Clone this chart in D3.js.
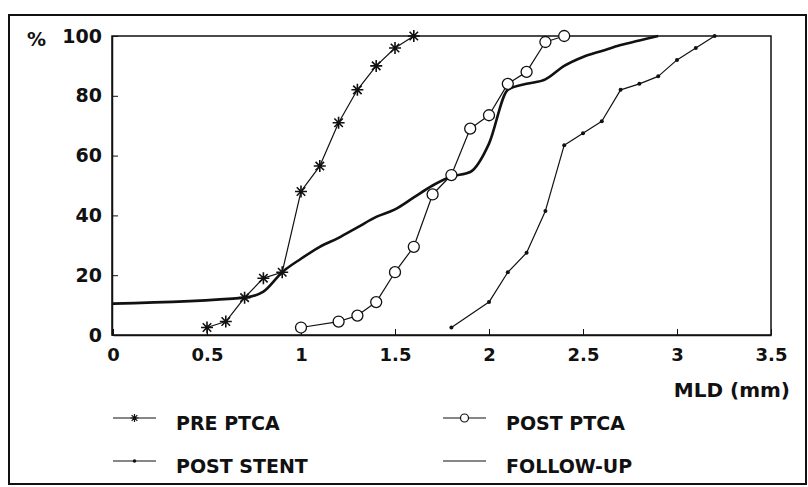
<!DOCTYPE html>
<html>
<head>
<meta charset="utf-8">
<script src="https://cdn.jsdelivr.net/npm/d3@7"></script>
<style>
    body { margin: 0; background: #fff; }
    text { font-family: "DejaVu Sans", sans-serif; font-weight: bold; fill: #111; }
</style>
</head>
<body>
<svg id="chart" width="808" height="487"></svg>
<script>
// MLD values (mm) and cumulative %
var prePtcaX = [0.5, 0.6, 0.7, 0.8, 0.9, 1.0, 1.1, 1.2, 1.3, 1.4, 1.5, 1.6];
var prePtcaY = [2.5, 4.5, 12.5, 19, 21, 48, 56.5, 71, 82, 90, 96, 100];

var postPtcaX = [1.0, 1.2, 1.3, 1.4, 1.5, 1.6, 1.7, 1.8, 1.9, 2.0, 2.1, 2.2, 2.3, 2.4];
var postPtcaY = [2.5, 4.5, 6.5, 11, 21, 29.5, 47, 53.5, 69, 73.5, 84, 88, 98, 100];

var postStentX = [1.8, 2.0, 2.1, 2.2, 2.3, 2.4, 2.5, 2.6, 2.7, 2.8, 2.9, 3.0, 3.1, 3.2];
var postStentY = [2.5, 11, 21, 27.5, 41.5, 63.5, 67.5, 71.5, 82, 84, 86.5, 92, 96, 100];

var followUpX = [0, 0.7, 0.8, 0.9, 1.0, 1.1, 1.2, 1.3, 1.4, 1.5, 1.6, 1.7, 1.8, 1.9, 2.0, 2.1, 2.2, 2.3, 2.4, 2.5, 2.6, 2.7, 2.8, 2.9];
var followUpY = [10.5, 12.5, 14.5, 21, 25.5, 29.5, 32.5, 36, 39.5, 42, 46, 50, 53, 54.5, 64, 82, 84, 85.5, 90, 93, 95, 97, 98.5, 100];

var xTicks = [0, 0.5, 1, 1.5, 2, 2.5, 3, 3.5];
var yTicks = [0, 20, 40, 60, 80, 100];

var svg = d3.select("#chart");

var x = d3.scaleLinear().domain([0, 3.5]).range([113, 771]);
var y = d3.scaleLinear().domain([0, 100]).range([335, 36]);

function zip(xs, ys) {
    return xs.map(function (d, i) { return [d, ys[i]]; });
}

//outer frame
svg.append("rect")
    .attr("x", 9).attr("y", 15).attr("width", 797).attr("height", 469)
    .attr("fill", "none").attr("stroke", "#111").attr("stroke-width", 2);

//plot box
svg.append("rect")
    .attr("x", x(0) - 1).attr("y", y(100)).attr("width", x(3.5) - x(0) + 1).attr("height", y(0) - y(100))
    .attr("fill", "none").attr("stroke", "#111").attr("stroke-width", 1.5);

//axes, ticks pointing inward
var xAxis = svg.append("g").attr("transform", "translate(0," + y(0) + ")")
    .call(d3.axisBottom(x).tickValues(xTicks).tickSizeInner(-6).tickSizeOuter(0).tickPadding(13)
        .tickFormat(function (d) { return d; }));
xAxis.select(".domain").attr("stroke", "#111").attr("stroke-width", 1.5);
xAxis.selectAll("line").attr("stroke", "#111");
xAxis.selectAll("text").attr("font-size", 18).attr("font-family", null).attr("fill", null);

var yAxis = svg.append("g").attr("transform", "translate(" + (x(0) - 1) + ",0)")
    .call(d3.axisLeft(y).tickValues(yTicks).tickSizeInner(-6).tickSizeOuter(0).tickPadding(10));
yAxis.select(".domain").attr("stroke", "#111").attr("stroke-width", 1.5);
yAxis.selectAll("line").attr("stroke", "#111");
yAxis.selectAll("text").attr("font-size", 19).attr("font-family", null).attr("fill", null);

svg.append("text").attr("x", 27).attr("y", 46).attr("font-size", 19).text("%");
svg.append("text").attr("x", 790).attr("y", 397).attr("text-anchor", "end").attr("font-size", 20).text("MLD (mm)");

var line = d3.line().x(function (d) { return x(d[0]); }).y(function (d) { return y(d[1]); });
var thinLine = function (data, w) {
    svg.append("path").datum(data).attr("d", line)
        .attr("fill", "none").attr("stroke", "#111").attr("stroke-width", w).attr("stroke-linejoin", "round");
};

var starPath = function (r) {
    var p = "";
    [0, 45, 90, 135].forEach(function (a) {
        var rad = a * Math.PI / 180;
        var dx = r * Math.cos(rad), dy = r * Math.sin(rad);
        p += "M" + (-dx) + "," + (-dy) + "L" + dx + "," + dy;
    });
    return p;
};

var followUp = zip(followUpX, followUpY);
svg.append("path").datum(followUp)
    .attr("d", line.curve(d3.curveMonotoneX))
    .attr("fill", "none").attr("stroke", "#111").attr("stroke-width", 2.6);
line.curve(d3.curveLinear);

var prePtca = zip(prePtcaX, prePtcaY);
thinLine(prePtca, 1.2);
svg.selectAll(".star").data(prePtca).enter().append("path")
    .attr("transform", function (d) { return "translate(" + x(d[0]) + "," + y(d[1]) + ")"; })
    .attr("d", starPath(6)).attr("stroke", "#111").attr("stroke-width", 1.6);

var postPtca = zip(postPtcaX, postPtcaY);
thinLine(postPtca, 1.2);
svg.selectAll(".circ").data(postPtca).enter().append("circle")
    .attr("cx", function (d) { return x(d[0]); }).attr("cy", function (d) { return y(d[1]); })
    .attr("r", 5.5).attr("fill", "#fff").attr("stroke", "#111").attr("stroke-width", 1.3);

var postStent = zip(postStentX, postStentY);
thinLine(postStent, 1.2);
svg.selectAll(".dot").data(postStent).enter().append("circle")
    .attr("cx", function (d) { return x(d[0]); }).attr("cy", function (d) { return y(d[1]); })
    .attr("r", 2).attr("fill", "#111");

//legend
var legend = [
    { name: "PRE PTCA", lx: 113, ly: 418, mark: "star" },
    { name: "POST PTCA", lx: 443, ly: 418, mark: "circle" },
    { name: "POST STENT", lx: 113, ly: 461, mark: "dot" },
    { name: "FOLLOW-UP", lx: 443, ly: 461, mark: "none" }
];
legend.forEach(function (l) {
    var g = svg.append("g");
    g.append("line").attr("x1", l.lx).attr("x2", l.lx + 43).attr("y1", l.ly).attr("y2", l.ly)
        .attr("stroke", "#111").attr("stroke-width", 1.2);
    var cx = l.lx + 21.5;
    if (l.mark == "star") {
        g.append("path").attr("transform", "translate(" + cx + "," + l.ly + ")")
            .attr("d", starPath(4)).attr("stroke", "#111").attr("stroke-width", 1.2);
    } else if (l.mark == "circle") {
        g.append("circle").attr("cx", cx).attr("cy", l.ly).attr("r", 4)
            .attr("fill", "#fff").attr("stroke", "#111").attr("stroke-width", 1.2);
    } else if (l.mark == "dot") {
        g.append("circle").attr("cx", cx).attr("cy", l.ly).attr("r", 1.8).attr("fill", "#111");
    }
    g.append("text").attr("x", l.lx + 63).attr("y", l.ly + 12).attr("font-size", 19).text(l.name);
});
</script>
</body>
</html>
